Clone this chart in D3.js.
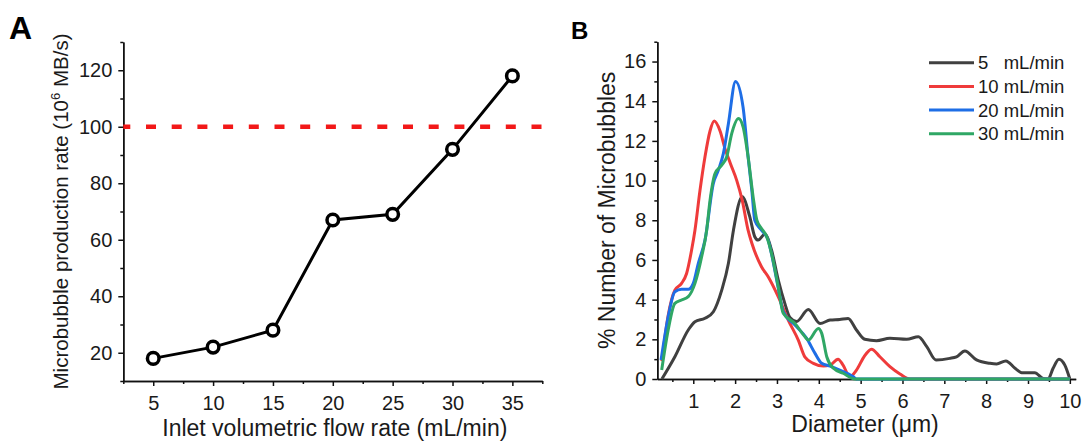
<!DOCTYPE html>
<html>
<head>
<meta charset="utf-8">
<script src="https://cdn.jsdelivr.net/npm/d3@7"></script>
<style>
  body { margin: 0; background: #fff; }
  svg text { font-family: Arial, "Liberation Sans", sans-serif; fill: #1a1a1a; }
</style>
</head>
<body>
<div id="chart"></div>
<script>
// Panel A data
const flowRate = [5, 10, 15, 20, 25, 30, 35];
const productionRate = [18, 22, 28, 67, 69, 92, 118];
const targetRate = 100;
const xTicksA = [5, 10, 15, 20, 25, 30, 35];
const xMinorA = [2.5, 7.5, 12.5, 17.5, 22.5, 27.5, 32.5, 37.5];
const yTicksA = [20, 40, 60, 80, 100, 120];
const yMinorA = [10, 30, 50, 70, 90, 110, 130];

// Panel B data (diameter in um, % number)
const diam5 = [0.25, 0.56, 0.88, 1.04, 1.28, 1.48, 1.68, 1.84, 1.96, 2.17, 2.35, 2.47, 2.55, 2.71, 2.87, 3.03, 3.19, 3.31, 3.47, 3.75, 4.03, 4.27, 4.5, 4.7, 4.9, 5.1, 5.38, 5.7, 6.1, 6.38, 6.58, 6.8, 7.13, 7.29, 7.49, 7.77, 8.09, 8.25, 8.47, 8.69, 8.85, 9.16, 9.36, 9.48, 9.6, 9.74, 9.88, 10.0];
const pct5 = [0.0, 1.12, 2.47, 2.89, 3.06, 3.39, 4.48, 5.83, 7.5, 9.18, 8.18, 7.17, 7.0, 7.3, 6.5, 5.0, 3.8, 3.1, 2.9, 3.5, 2.8, 2.97, 3.0, 3.05, 2.47, 2.0, 1.93, 2.05, 2.0, 2.13, 1.63, 0.96, 1.04, 1.12, 1.41, 0.96, 0.79, 0.76, 0.91, 0.54, 0.32, 0.32, 0.03, 0.0, 0.54, 1.0, 0.7, 0.0];

const diam10 = [0.25, 0.4, 0.56, 0.72, 0.84, 0.96, 1.04, 1.16, 1.28, 1.4, 1.5, 1.64, 1.76, 1.88, 2.04, 2.17, 2.31, 2.4, 2.63, 2.79, 3.03, 3.27, 3.51, 3.67, 3.87, 4.11, 4.27, 4.46, 4.58, 4.74, 4.9, 5.08, 5.26, 5.46, 5.7, 5.94, 6.18, 10.0];
const pct10 = [0.9, 3.2, 4.48, 4.82, 5.32, 6.5, 7.5, 9.5, 11.2, 12.5, 13.0, 12.5, 11.6, 10.9, 10.0, 9.0, 7.5, 6.84, 5.66, 5.15, 4.15, 2.97, 1.96, 1.1, 0.79, 0.65, 0.7, 1.0, 0.7, 0.12, 0.45, 1.12, 1.5, 1.12, 0.62, 0.25, 0.0, 0.0];

const diam20 = [0.23, 0.4, 0.56, 0.72, 0.88, 1.0, 1.12, 1.28, 1.48, 1.6, 1.72, 1.84, 2.01, 2.19, 2.31, 2.4, 2.47, 2.63, 2.79, 2.87, 3.03, 3.15, 3.43, 3.71, 3.91, 4.07, 4.27, 4.5, 4.82, 4.9, 10.0];
const pct20 = [0.96, 3.14, 4.4, 4.52, 4.52, 4.82, 5.83, 7.0, 9.86, 10.53, 11.37, 12.88, 15.0, 13.7, 11.2, 9.5, 8.0, 7.5, 7.0, 6.3, 4.6, 3.4, 2.72, 2.05, 1.29, 0.79, 0.65, 0.45, 0.12, 0.0, 0.0];

const diam30 = [0.245, 0.4, 0.56, 0.72, 0.88, 1.04, 1.2, 1.32, 1.4, 1.52, 1.68, 1.8, 1.92, 2.08, 2.19, 2.31, 2.43, 2.52, 2.63, 2.75, 2.87, 3.03, 3.15, 3.43, 3.67, 3.75, 3.99, 4.07, 4.19, 4.35, 4.58, 4.86, 10.0];
const pct30 = [0.45, 2.47, 3.81, 3.98, 4.15, 4.82, 6.16, 7.5, 9.0, 10.36, 10.78, 11.2, 12.38, 13.13, 12.71, 11.2, 9.18, 8.0, 7.59, 7.2, 6.33, 4.65, 3.31, 2.8, 2.13, 1.96, 2.55, 2.3, 1.12, 0.54, 0.29, 0.0, 0.0];

const seriesLabels = ["5   mL/min", "10 mL/min", "20 mL/min", "30 mL/min"];
const seriesColors = ["#404040", "#ef3b3b", "#1e6ee6", "#2fa765"];
const xTicksB = [1, 2, 3, 4, 5, 6, 7, 8, 9, 10];
const xMinorB = [0.5, 1.5, 2.5, 3.5, 4.5, 5.5, 6.5, 7.5, 8.5, 9.5];
const yTicksB = [0, 2, 4, 6, 8, 10, 12, 14, 16];
const yMinorB = [1, 3, 5, 7, 9, 11, 13, 15, 17];

const width = 1085, height = 442;
const svg = d3.select("#chart").append("svg")
    .attr("width", width)
    .attr("height", height);

function styleAxis(g) {
    g.selectAll("path, line").attr("stroke", "#111").attr("stroke-width", 1.5);
    g.selectAll("text").attr("font-size", 20).attr("fill", "#1a1a1a");
}

// ---------- Panel A ----------
const a = { left: 123.3, top: 42, w: 419, h: 339 };
const gA = svg.append("g").attr("transform", `translate(${a.left},${a.top})`);

const xA = d3.scaleLinear().domain([2.5, 37.5]).range([0, a.w]);
const yA = d3.scaleLinear().domain([10, 130]).range([a.h, 0]);

gA.append("g").attr("transform", `translate(0,${a.h})`)
    .call(d3.axisBottom(xA).tickValues(xMinorA).tickSize(3).tickSizeOuter(0).tickFormat(""))
    .call(styleAxis);
gA.append("g").attr("transform", `translate(0,${a.h})`)
    .call(d3.axisBottom(xA).tickValues(xTicksA).tickSize(5).tickSizeOuter(0).tickPadding(10))
    .call(styleAxis);
gA.append("g")
    .call(d3.axisLeft(yA).tickValues(yMinorA).tickSize(3).tickSizeOuter(0).tickFormat(""))
    .call(styleAxis);
gA.append("g")
    .call(d3.axisLeft(yA).tickValues(yTicksA).tickSize(5).tickSizeOuter(0).tickPadding(6))
    .call(styleAxis);

// target line
gA.append("line")
    .attr("x1", xA(2.5)).attr("x2", xA(37.5))
    .attr("y1", yA(targetRate)).attr("y2", yA(targetRate))
    .attr("stroke", "#f21818")
    .attr("stroke-width", 4.5)
    .attr("stroke-dasharray", "10,15.7")
    .attr("stroke-dashoffset", 3);

const ptsA = flowRate.map((f, i) => [f, productionRate[i]]);
gA.append("path")
    .datum(ptsA)
    .attr("fill", "none")
    .attr("stroke", "#000")
    .attr("stroke-width", 3)
    .attr("d", d3.line().x(d => xA(d[0])).y(d => yA(d[1])));

gA.selectAll("circle")
    .data(ptsA)
    .enter()
    .append("circle")
    .attr("cx", d => xA(d[0]))
    .attr("cy", d => yA(d[1]))
    .attr("r", 5.8)
    .attr("fill", "#fff")
    .attr("stroke", "#000")
    .attr("stroke-width", 3.5);

svg.append("text")
    .attr("x", 9).attr("y", 39)
    .attr("font-size", 32).attr("font-weight", "bold")
    .style("fill", "#000")
    .text("A");

const yLabA = svg.append("text")
    .attr("transform", `translate(68,${a.top + a.h / 2}) rotate(-90)`)
    .attr("text-anchor", "middle")
    .attr("font-size", 20.5);
yLabA.append("tspan").text("Microbubble production rate (10");
yLabA.append("tspan").attr("font-size", 13).attr("dy", -8).text("6");
yLabA.append("tspan").attr("dy", 8).text(" MB/s)");

svg.append("text")
    .attr("x", a.left + a.w / 2 + 2).attr("y", 436)
    .attr("text-anchor", "middle")
    .attr("font-size", 23)
    .text("Inlet volumetric flow rate (mL/min)");

// ---------- Panel B ----------
const b = { left: 657.3, top: 41.7, w: 418.4, h: 337.3 };
const gB = svg.append("g").attr("transform", `translate(${b.left},${b.top})`);

const xB = d3.scaleLinear().domain([0.14, 10.14]).range([0, b.w]);
const yB = d3.scaleLinear().domain([0, 17]).range([b.h, 0]);

gB.append("g").attr("transform", `translate(0,${b.h})`)
    .call(d3.axisBottom(xB).tickValues(xMinorB).tickSize(3).tickSizeOuter(0).tickFormat(""))
    .call(styleAxis);
gB.append("g").attr("transform", `translate(0,${b.h})`)
    .call(d3.axisBottom(xB).tickValues(xTicksB).tickSize(5).tickSizeOuter(0).tickPadding(10))
    .call(styleAxis);
gB.append("g")
    .call(d3.axisLeft(yB).tickValues(yMinorB).tickSize(3).tickSizeOuter(0).tickFormat(""))
    .call(styleAxis);
gB.append("g")
    .call(d3.axisLeft(yB).tickValues(yTicksB).tickSize(5).tickSizeOuter(0).tickPadding(6))
    .call(styleAxis);

const seriesB = [
    diam5.map((d, i) => [d, pct5[i]]),
    diam10.map((d, i) => [d, pct10[i]]),
    diam20.map((d, i) => [d, pct20[i]]),
    diam30.map((d, i) => [d, pct30[i]])
];
const lineB = d3.line()
    .x(d => xB(d[0]))
    .y(d => yB(d[1]))
    .curve(d3.curveMonotoneX);

gB.selectAll(".dist")
    .data(seriesB)
    .enter()
    .append("path")
    .attr("class", "dist")
    .attr("fill", "none")
    .attr("stroke", (d, i) => seriesColors[i])
    .attr("stroke-width", 3)
    .attr("stroke-linejoin", "round")
    .attr("d", lineB);

// legend
const legend = svg.append("g").attr("transform", "translate(929,62.7)");
seriesLabels.forEach((lab, i) => {
    const row = legend.append("g").attr("transform", `translate(0,${i * 23.7})`);
    row.append("line")
        .attr("x1", 0).attr("x2", 45)
        .attr("stroke", seriesColors[i])
        .attr("stroke-width", 3);
    row.append("text")
        .attr("x", 49).attr("y", 6.5)
        .attr("font-size", 18.5)
        .style("white-space", "pre")
        .text(lab);
});

svg.append("text")
    .attr("x", 571).attr("y", 39.3)
    .attr("font-size", 24).attr("font-weight", "bold")
    .style("fill", "#000")
    .text("B");

svg.append("text")
    .attr("transform", `translate(615,${b.top + b.h / 2}) rotate(-90)`)
    .attr("text-anchor", "middle")
    .attr("font-size", 23)
    .text("% Number of Microbubbles");

svg.append("text")
    .attr("x", 865).attr("y", 432)
    .attr("text-anchor", "middle")
    .attr("font-size", 23)
    .text("Diameter (\u03bcm)");
</script>
</body>
</html>
